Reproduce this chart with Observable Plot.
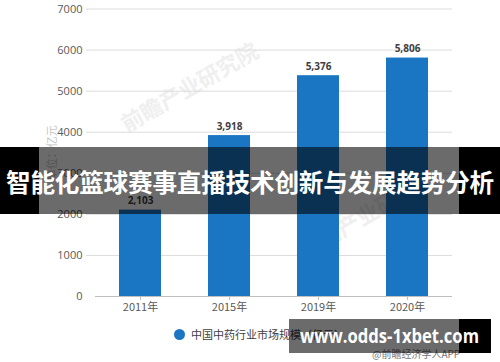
<!DOCTYPE html>
<html>
<head>
<meta charset="utf-8">
<script src="https://cdn.jsdelivr.net/npm/d3@7"></script>
<script src="https://cdn.jsdelivr.net/npm/@observablehq/plot@0.6"></script>
<style>
  html, body { margin: 0; padding: 0; background: #fff; }
  #wrap { position: relative; width: 500px; height: 362px; overflow: hidden; font-family: "Noto Sans CJK SC", "Noto Sans", sans-serif; }
  .wm { position: absolute; color: #efefef; font-weight: bold; white-space: nowrap; transform-origin: left center; }
  .band { position: absolute; }
  .legend { position: absolute; left: 174px; top: 326px; font-size: 11px; color: #404040; display: flex; align-items: center; }
  .legend .sw { width: 11px; height: 11px; border-radius: 50%; background: #1a76c3; margin-right: 6px; }
  .source { position: absolute; left: 372px; top: 346px; font-size: 10px; color: #777; }
</style>
</head>
<body>
<div id="wrap"></div>
<script>
const categories = ["2011年", "2015年", "2019年", "2020年"];
const values = [2103, 3918, 5376, 5806];
const yTicks = [0, 1000, 2000, 3000, 4000, 5000, 6000, 7000];
const seriesName = "中国中药行业市场规模（亿元）";
const yLabel = "单位：亿元";
const title = "智能化篮球赛事直播技术创新与发展趋势分析";
const site = "www.odds-1xbet.com";
const source = "@前瞻经济学人APP";
const watermark = "前瞻产业研究院";

const data = categories.map((c, i) => ({year: c, value: values[i]}));
const barColor = "#1a76c3";
const wrap = document.getElementById("wrap");

// faint watermarks (behind the chart)
function addWM(text, left, top, size, rot) {
  const d = document.createElement("div");
  d.className = "wm";
  d.textContent = text;
  d.style.left = left + "px";
  d.style.top = top + "px";
  d.style.fontSize = size + "px";
  d.style.transform = `rotate(${rot}deg)`;
  wrap.appendChild(d);
}
addWM(watermark, 122, 108, 22, -30);
addWM(watermark, 300, 235, 22, -30);

const chart = Plot.plot({
  width: 500,
  height: 362,
  marginTop: 8.5,
  marginBottom: 66,
  marginLeft: 86,
  marginRight: 48,
  style: {fontFamily: "'Open Sans', 'Noto Sans CJK SC', sans-serif", fontSize: "11px", color: "#595959", background: "transparent"},
  x: {domain: categories, paddingInner: 0.53, paddingOuter: 0.265, insetLeft: 9, insetRight: 1, label: null},
  y: {domain: [0, 7000], label: null},
  marks: [
    Plot.ruleY(yTicks.filter(d => d > 0), {stroke: "#dcdcdc", strokeWidth: 1}),
    Plot.barY(data, {x: "year", y: "value", fill: barColor}),
    Plot.ruleY([0], {stroke: "#bfbfbf", strokeWidth: 1, insetLeft: 9}),
    Plot.axisY({ticks: yTicks, tickSize: 0, tickPadding: 4, tickFormat: d => String(d), fill: "#595959", fontSize: 11, label: null}),
    Plot.axisY({ticks: [], tickSize: 0, label: yLabel, labelAnchor: "center", labelArrow: "none", labelOffset: 38, fill: "#c4c4c4", fontSize: 11, fontFamily: "'Noto Sans CJK SC', sans-serif"}),
    Plot.axisX({tickSize: 4, tickPadding: 3, stroke: "#bfbfbf", fill: "#595959", fontSize: 11, label: null, fontFamily: "'Noto Sans CJK SC', sans-serif"}),
    Plot.text(data, {x: "year", y: "value", text: d => d3.format(",")(d.value), dy: -9, fill: "#404040", fontWeight: "bold", fontSize: 10})
  ]
});
chart.style.position = "absolute";
chart.style.left = "0";
chart.style.top = "0";
wrap.appendChild(chart);

// title banner
function band(left, top, w, h, bg) {
  const d = document.createElement("div");
  d.className = "band";
  Object.assign(d.style, {left: left + "px", top: top + "px", width: w + "px", height: h + "px", background: bg});
  wrap.appendChild(d);
  return d;
}
band(0, 147, 39, 67, "#000");
band(39, 147, 420, 67, "rgba(0,0,0,0.58)");
band(459, 147, 41, 67, "#000");
const t = document.createElement("div");
Object.assign(t.style, {position: "absolute", left: "0", top: "147px", width: "500px", height: "67px", display: "flex", alignItems: "center", justifyContent: "center", color: "#fff", fontWeight: "bold", fontSize: "24.6px", fontFamily: "'Noto Sans CJK SC', sans-serif", whiteSpace: "nowrap", letterSpacing: "-0.2px"});
t.textContent = title;
wrap.appendChild(t);

// legend
const lg = document.createElement("div");
lg.className = "legend";
lg.innerHTML = `<span class="sw"></span><span></span>`;
lg.lastChild.textContent = seriesName;
wrap.appendChild(lg);

// source
const src = document.createElement("div");
src.className = "source";
src.textContent = source;
wrap.appendChild(src);

// site box
band(289, 319, 170, 34, "rgba(0,0,0,0.58)");
band(459, 319, 32, 34, "#000");
const s = document.createElement("div");
Object.assign(s.style, {position: "absolute", left: "300px", top: "319px", height: "34px", lineHeight: "34px", color: "#fff", fontWeight: "bold", fontSize: "19px", fontFamily: "'Open Sans', 'DejaVu Sans', sans-serif", whiteSpace: "nowrap", transformOrigin: "left center"});
s.textContent = site;
wrap.appendChild(s);
const sw = s.getBoundingClientRect().width;
s.style.transform = `scaleX(${179 / sw})`;
</script>
</body>
</html>
